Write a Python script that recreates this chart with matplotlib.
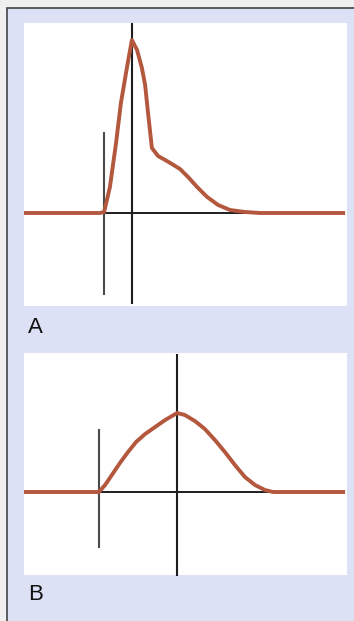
import matplotlib.pyplot as plt
from matplotlib.patches import Rectangle

# Trace A: fast upstroke, sharp peak, then a shoulder decaying to baseline
a_time = [0, 23.5, 24.8, 26.6, 28.5, 30.0, 31.9, 33.4, 35.0, 36.5, 37.5, 38.4, 39.6,
          41.5, 43.7, 45.8, 48.3, 50.8, 53.6, 56.7, 60.1, 63.8, 68.4, 73.1, 99.4]
a_amp = [0, 0, 1, 26, 70, 110, 146, 173, 163, 145, 128, 100, 65,
         57, 53, 49, 44, 36, 26, 16, 8, 3, 1, 0, 0]
a_marks = [24.8, 33.4]  # onset and peak markers

# Trace B: slow, rounded rise and fall
b_time = [0, 23.2, 25.1, 27.2, 29.7, 32.2, 34.7, 37.5, 40.6, 43.7, 47.4, 49.8,
          52.9, 56.0, 59.1, 62.2, 65.3, 68.4, 71.5, 74.6, 77.1, 99.4]
b_amp = [0, 0, 7, 17, 29, 40, 50, 58, 65, 72, 79, 77,
         71, 63, 52, 40, 27, 15, 7, 2, 0, 0]
b_marks = [23.2, 47.4]

curve_color = '#b3573d'
W, H = 354, 621

fig = plt.figure(figsize=(W / 100, H / 100), dpi=100)
fig.patch.set_facecolor('#efefef')
# lavender card; right and bottom edges run off the canvas
fig.patches.append(Rectangle((7 / W, -0.05), 1.1, 1.05 - 8 / H, transform=fig.transFigure,
                             facecolor='#dde1f5', edgecolor='#3f4347', linewidth=1.2,
                             zorder=-10))


def px_axes(left, top, right, bottom):
    return fig.add_axes([left / W, 1 - bottom / H, (right - left) / W, (bottom - top) / H])


def draw_panel(ax, t, amp, marks, ylim, mark_spans, label):
    ax.set_facecolor('white')
    ax.set_xlim(0, 100)
    ax.set_ylim(*ylim)
    for s in ax.spines.values():
        s.set_visible(False)
    ax.set_xticks([])
    ax.set_yticks([])
    ax.axhline(0, xmin=0, xmax=0.99, color='#1e1e1e', lw=1.4, zorder=2)
    colors = ['#4a4a4a', '#1e1e1e']
    for x, (y0, y1), c in zip(marks, mark_spans, colors):
        ax.plot([x, x], [y0, y1], color=c, lw=1.5, zorder=2, clip_on=False)
    ax.plot(t, amp, color=curve_color, lw=2.8, solid_joinstyle='round',
            solid_capstyle='butt', zorder=3)
    ax.text(0.013, -0.04, label, transform=ax.transAxes, fontsize=16,
            family='Liberation Sans', va='top', ha='left', color='#111111')


ax_a = px_axes(24, 23, 347, 306)
draw_panel(ax_a, a_time, a_amp, a_marks, (-93, 190),
           [(-81, 80), (-90, 189)], 'A')

ax_b = px_axes(24, 353, 347, 575)
draw_panel(ax_b, b_time, b_amp, b_marks, (-83, 139),
           [(-55, 62), (-83, 137)], 'B')

fig.savefig('out.png', dpi=100, facecolor=fig.get_facecolor())
